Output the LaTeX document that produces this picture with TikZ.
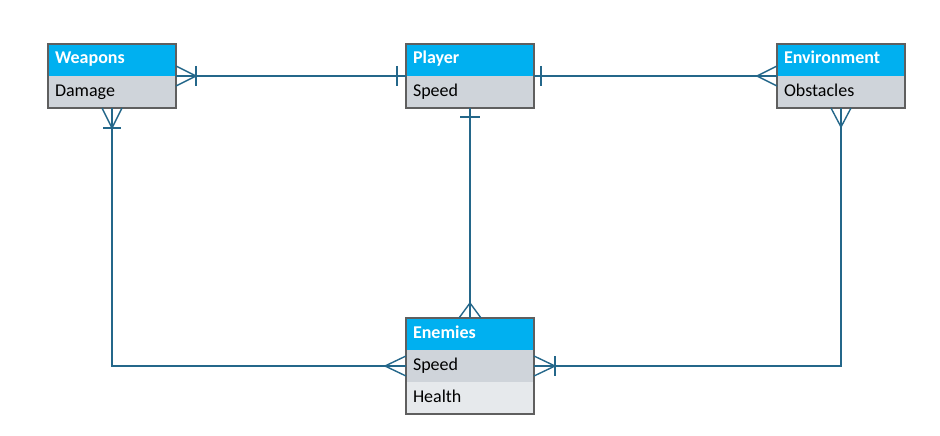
\documentclass[tikz,border=0pt]{standalone}
\usepackage{fontspec}
\setmainfont{Carlito}
\usetikzlibrary{positioning, fit}
\definecolor{headblue}{HTML}{00B0F0}
\definecolor{rowgray}{HTML}{CFD4DA}
\definecolor{rowlight}{HTML}{E6E9EC}
\definecolor{linkblue}{HTML}{24678A}
\definecolor{boxgray}{HTML}{5F5F5F}
\tikzstyle{cell} = [rectangle, minimum height=32pt, text width=114pt, inner xsep=7pt, inner ysep=0pt,
                    outer sep=0pt, align=left, text height=12pt, text depth=4pt]
\tikzstyle{head} = [cell, fill=headblue, text=white, font=\bfseries\fontsize{18}{20}\selectfont]
\tikzstyle{row} = [cell, fill=rowgray, text=black, font=\fontsize{18}{20}\selectfont]
\tikzstyle{rowlast} = [row, fill=rowlight]
\tikzstyle{box} = [draw=boxgray, line width=1.2pt, inner sep=0pt]
\tikzstyle{link} = [draw=linkblue, line width=1.4pt]

\begin{document}
\begin{tikzpicture}[x=1pt, y=-1pt]
				\useasboundingbox (0, 0) rectangle (940, 436);

				\node (WeaponsHead) [head] at (112, 60) {Weapons};
				\node (WeaponsDamage) [row, below=0pt of WeaponsHead] {Damage};
				\node (WeaponsBox) [box, fit=(WeaponsHead)(WeaponsDamage)] {};

				\node (PlayerHead) [head] at (470, 60) {Player};
				\node (PlayerSpeed) [row, below=0pt of PlayerHead] {Speed};
				\node (PlayerBox) [box, fit=(PlayerHead)(PlayerSpeed)] {};

				\node (EnvHead) [head] at (841, 60) {Environment};
				\node (EnvObstacles) [row, below=0pt of EnvHead] {Obstacles};
				\node (EnvBox) [box, fit=(EnvHead)(EnvObstacles)] {};

				\node (EnemiesHead) [head] at (470, 334) {Enemies};
				\node (EnemiesSpeed) [row, below=0pt of EnemiesHead] {Speed};
				\node (EnemiesHealth) [rowlast, below=0pt of EnemiesSpeed] {Health};
				\node (EnemiesBox) [box, fit=(EnemiesHead)(EnemiesHealth)] {};

				% Weapons - Player
				\draw [link] (WeaponsHead.south east) -- (PlayerHead.south west);
				\draw [link] (WeaponsHead.south east) ++(0, -10) -- ++(20, 10) -- ++(-20, 10);
				\draw [link] (WeaponsHead.south east) ++(20, -10) -- ++(0, 20);
				\draw [link] (PlayerHead.south west) ++(-9, -10) -- ++(0, 20);

				% Player - Environment
				\draw [link] (PlayerHead.south east) -- (EnvHead.south west);
				\draw [link] (PlayerHead.south east) ++(7, -10) -- ++(0, 20);
				\draw [link] (EnvHead.south west) ++(0, -10) -- ++(-20, 10) -- ++(20, 10);

				% Player - Enemies
				\draw [link] (PlayerSpeed.south) -- (EnemiesHead.north);
				\draw [link] (PlayerSpeed.south) ++(-10, 9) -- ++(20, 0);
				\draw [link] (EnemiesHead.north) ++(-11, 0) -- ++(11, -15) -- ++(11, 15);

				% Weapons - Enemies
				\draw [link] (WeaponsDamage.south) |- (EnemiesSpeed.west);
				\draw [link] (WeaponsDamage.south) ++(-10, 0) -- ++(10, 20) -- ++(10, -20);
				\draw [link] (WeaponsDamage.south) ++(-9, 20) -- ++(18, 0);
				\draw [link] (EnemiesSpeed.west) ++(0, -10) -- ++(-21, 10) -- ++(21, 10);

				% Enemies - Environment
				\draw [link] (EnemiesSpeed.east) -| (EnvObstacles.south);
				\draw [link] (EnemiesSpeed.east) ++(0, -10) -- ++(21, 10) -- ++(-21, 10);
				\draw [link] (EnemiesSpeed.east) ++(21, -10) -- ++(0, 20);
				\draw [link] (EnvObstacles.south) ++(-10, 0) -- ++(10, 19) -- ++(10, -19);
			\end{tikzpicture}
\end{document}
